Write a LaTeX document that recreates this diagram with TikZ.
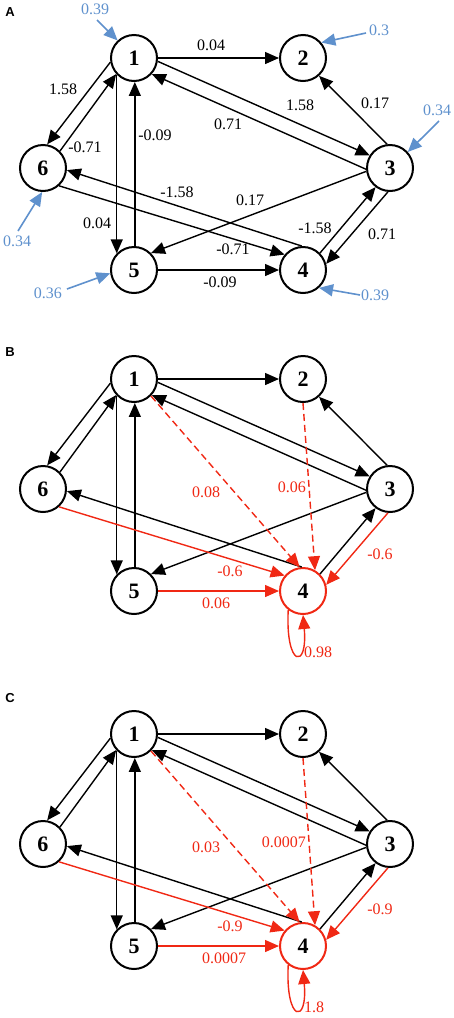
\documentclass[tikz,border=0pt]{standalone}
\usepackage{fontspec}
\setmainfont{Liberation Serif}
\newfontfamily\panelfont{Liberation Sans}
\usetikzlibrary{arrows.meta}
\definecolor{inblue}{RGB}{95,145,205}
\definecolor{hotred}{RGB}{240,40,20}

\begin{document}
\begin{tikzpicture}[x=1pt, y=-1pt,
 vtx/.style={circle, draw, line width=2pt, minimum size=46pt, inner sep=0pt, font=\fontsize{22}{22}\selectfont\bfseries},
 edge/.style={line width=1.4pt, -{Triangle[length=14pt,width=12pt]}},
 redge/.style={edge, hotred},
 inedge/.style={line width=1.6pt, inblue, -{Triangle[length=14pt,width=12pt]}},
 lab/.style={font=\fontsize{16}{16}\selectfont, inner sep=0pt},
 blab/.style={lab, inblue},
 rlab/.style={lab, hotred},
 panel/.style={font=\panelfont\bfseries\fontsize{13}{13}\selectfont, inner sep=0pt}]

\useasboundingbox (0,0) rectangle (454,1018);

\node[panel] (pa) at (10,12) {A};
\node[panel] (pb) at (10,352) {B};
\node[panel] (pc) at (10,698) {C};

\foreach \p/\dy/\fc in {a/0/black, b/321/hotred, c/676/hotred} {
 \foreach \n/\x/\y in {1/134/58, 2/303/58, 3/390/168, 5/134/270, 6/43/168}
  \node[vtx] (\p\n) at (\x,\y+\dy) {\n};
 \node[vtx, draw=\fc] (\p4) at (303,270+\dy) {4};
 \draw[edge] (\p1.east) -- (\p2.west);
 \draw[edge] (\p1.-8) -- (\p3.148);
 \draw[edge] (\p3.183) -- (\p1.-42);
 \draw[edge] (\p3.97) -- (\p2.-48);
 \draw[edge] (\p1.190) -- (\p6.80);
 \draw[edge] (\p6.45) -- (\p1.222);
 \draw[edge] (\p1.-136) -- (\p5.136);
 \draw[edge] (\p5.88) -- (\p1.-88);
 \draw[edge] (\p4.93) -- (\p6.-5);
 \draw[edge] (\p3.188) -- (\p5.45);
 \draw[edge] (\p4.45) -- (\p3.233);
 \draw[edge, \fc] (\p6.-48) -- (\p4.140);
 \draw[edge, \fc] (\p3.-95) -- (\p4.15);
 \draw[edge, \fc] (\p5.east) -- (\p4.west);
}

\node[lab] (l12) at (211,45) {0.04};
\node[lab] (l13) at (300,105) {1.58};
\node[lab] (l31) at (228,124) {0.71};
\node[lab] (l32) at (375,103) {0.17};
\node[lab] (l16) at (63,89) {1.58};
\node[lab] (l61) at (85,147) {-0.71};
\node[lab] (l51) at (155,135) {-0.09};
\node[lab] (l15) at (97,223) {0.04};
\node[lab] (l46) at (177,192) {-1.58};
\node[lab] (l35) at (250,200) {0.17};
\node[lab] (l64) at (233,249) {-0.71};
\node[lab] (l43) at (315,228) {-1.58};
\node[lab] (l34) at (382,234) {0.71};
\node[lab] (l54) at (220,282) {-0.09};

\coordinate (in1) at (97,20);
\coordinate (in2) at (366,33);
\coordinate (in3) at (439,121);
\coordinate (in6) at (18,231);
\coordinate (in5) at (67,289);
\coordinate (in4) at (360,295);
\draw[inedge] (in1) -- (a1.133);
\draw[inedge] (in2) -- (a2.40);
\draw[inedge] (in3) -- (a3.42);
\draw[inedge] (in6) -- (a6.-92);
\draw[inedge] (in5) -- (a5.188);
\draw[inedge] (in4) -- (a4.-48);
\node[blab] (w1) at (95,9) {0.39};
\node[blab] (w2) at (379,30) {0.3};
\node[blab] (w3) at (437,110) {0.34};
\node[blab] (w6) at (17,241) {0.34};
\node[blab] (w5) at (48,293) {0.36};
\node[blab] (w4) at (375,295) {0.39};

\foreach \p/\dy/\la/\lb/\lc/\ld/\le/\lf in {b/321/0.08/0.06/-0.6/-0.6/0.06/0.98, c/676/0.03/0.0007/-0.9/-0.9/0.0007/1.8} {
 \draw[redge, dash pattern=on 7pt off 4pt] (\p1.-45) -- (\p4.98);
 \draw[redge, dash pattern=on 7pt off 4pt] (\p2.-90) -- (\p4.60);
 \draw[redge] (\p4.-128) .. controls +(-3,58) and +(5,55) .. (\p4.-90);
 \node[rlab] (\p-l14) at (206,171+\dy) {\la};
 \node[rlab, anchor=east] (\p-l24) at (306,166+\dy) {\lb};
 \node[rlab] (\p-l64) at (230,250+\dy) {\lc};
 \node[rlab] (\p-l34) at (380,233+\dy) {\ld};
 \node[rlab, anchor=west] (\p-l54) at (202,282+\dy) {\le};
 \node[rlab, anchor=west] (\p-l44) at (304,331+\dy) {\lf};
}
\end{tikzpicture}
\end{document}
